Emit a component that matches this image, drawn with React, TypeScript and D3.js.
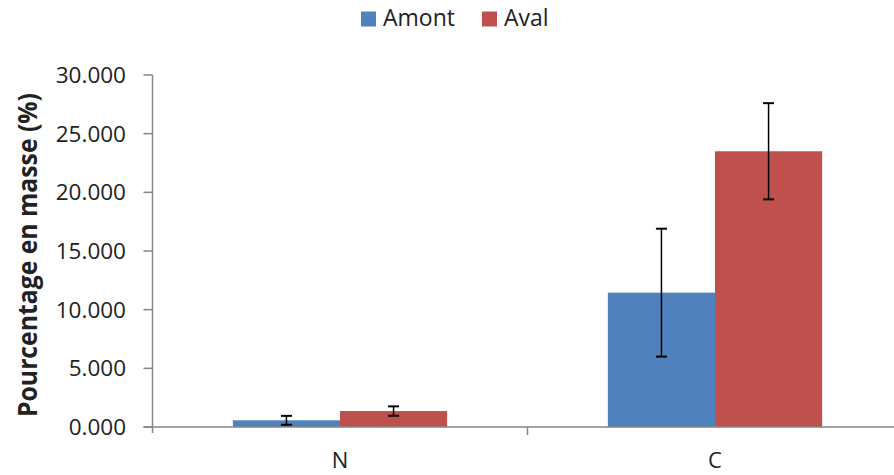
import React from "react";
import * as d3 from "d3";

const categories = ["N", "C"];
const seriesNames = ["Amont", "Aval"];
const seriesColors = ["#4F81BD", "#C0504D"];
const amontValues = [0.57, 11.45];
const amontErrors = [0.38, 5.45];
const avalValues = [1.36, 23.5];
const avalErrors = [0.4, 4.1];
const yTicks = [0, 5, 10, 15, 20, 25, 30];

const W = 894;
const H = 475;
const left = 152.5;
const catW = 375;
const top = 75;
const bottom = 427;

export default function App() {
  const x0 = d3.scaleBand().domain(categories).range([left, left + catW * categories.length]).paddingInner(0).paddingOuter(0);
  const x1 = d3.scaleBand().domain(seriesNames).range([0, catW]).paddingInner(0).paddingOuter(0.75);
  const y = d3.scaleLinear().domain([0, 30]).range([bottom, top]);
  const series = [
    { name: seriesNames[0], values: amontValues, errors: amontErrors, color: seriesColors[0] },
    { name: seriesNames[1], values: avalValues, errors: avalErrors, color: seriesColors[1] },
  ];
  const font = "'Open Sans', 'Liberation Sans', sans-serif";
  const axisColor = "#868686";
  return (
    <svg width={W} height={H} style={{ position: "absolute", left: 0, top: 0 }} fontFamily={font}>
      <rect width={W} height={H} fill="#fff" />
      {/* legend */}
      {series.map((s, i) => {
        const lx = [361, 482][i];
        return (
          <g key={s.name}>
            <rect x={lx} y={11.5} width={15} height={15} fill={s.color} />
            <text x={lx + 22} y={26} fontSize={23} fill="#222">{s.name}</text>
          </g>
        );
      })}
      {/* y axis */}
      <line x1={left} x2={left} y1={top} y2={bottom + 6} stroke={axisColor} strokeWidth={1.5} />
      {yTicks.map((t) => (
        <g key={t}>
          <line x1={left - 9} x2={left} y1={y(t)} y2={y(t)} stroke={axisColor} strokeWidth={1.5} />
          <text x={126} y={y(t) + 8} textAnchor="end" fontSize={22.5} fill="#222">
            {d3.format(".3f")(t)}
          </text>
        </g>
      ))}
      <text
        transform={`translate(37,255) rotate(-90)`}
        textAnchor="middle"
        fontSize={26}
        fontWeight="bold"
        fill="#222"
        textLength={324}
        lengthAdjust="spacingAndGlyphs"
      >
        Pourcentage en masse (%)
      </text>
      {/* bars */}
      {categories.map((c, ci) =>
        series.map((s) => {
          const bw = x1.bandwidth();
          const bx = (x0(c) as number) + (x1(s.name) as number);
          const v = s.values[ci];
          const e = s.errors[ci];
          const cx = bx + bw / 2;
          return (
            <g key={c + s.name}>
              <rect x={bx} y={y(v)} width={bw} height={bottom - y(v)} fill={s.color} />
              <line x1={cx} x2={cx} y1={y(v + e)} y2={y(v - e)} stroke="#000" strokeWidth={1.5} />
              <line x1={cx - 5.5} x2={cx + 5.5} y1={y(v + e)} y2={y(v + e)} stroke="#000" strokeWidth={2} />
              <line x1={cx - 5.5} x2={cx + 5.5} y1={y(v - e)} y2={y(v - e)} stroke="#000" strokeWidth={2} />
            </g>
          );
        })
      )}
      {/* x axis */}
      <line x1={left - 9} x2={W} y1={bottom} y2={bottom} stroke={axisColor} strokeWidth={1.5} />
      {categories.map((c, i) => (
        <g key={c}>
          <line x1={left + catW * (i + 1)} x2={left + catW * (i + 1)} y1={bottom} y2={bottom + 8} stroke={axisColor} strokeWidth={1.5} />
          <text x={(x0(c) as number) + catW / 2} y={468} textAnchor="middle" fontSize={22} fill="#222">{c}</text>
        </g>
      ))}
    </svg>
  );
}
